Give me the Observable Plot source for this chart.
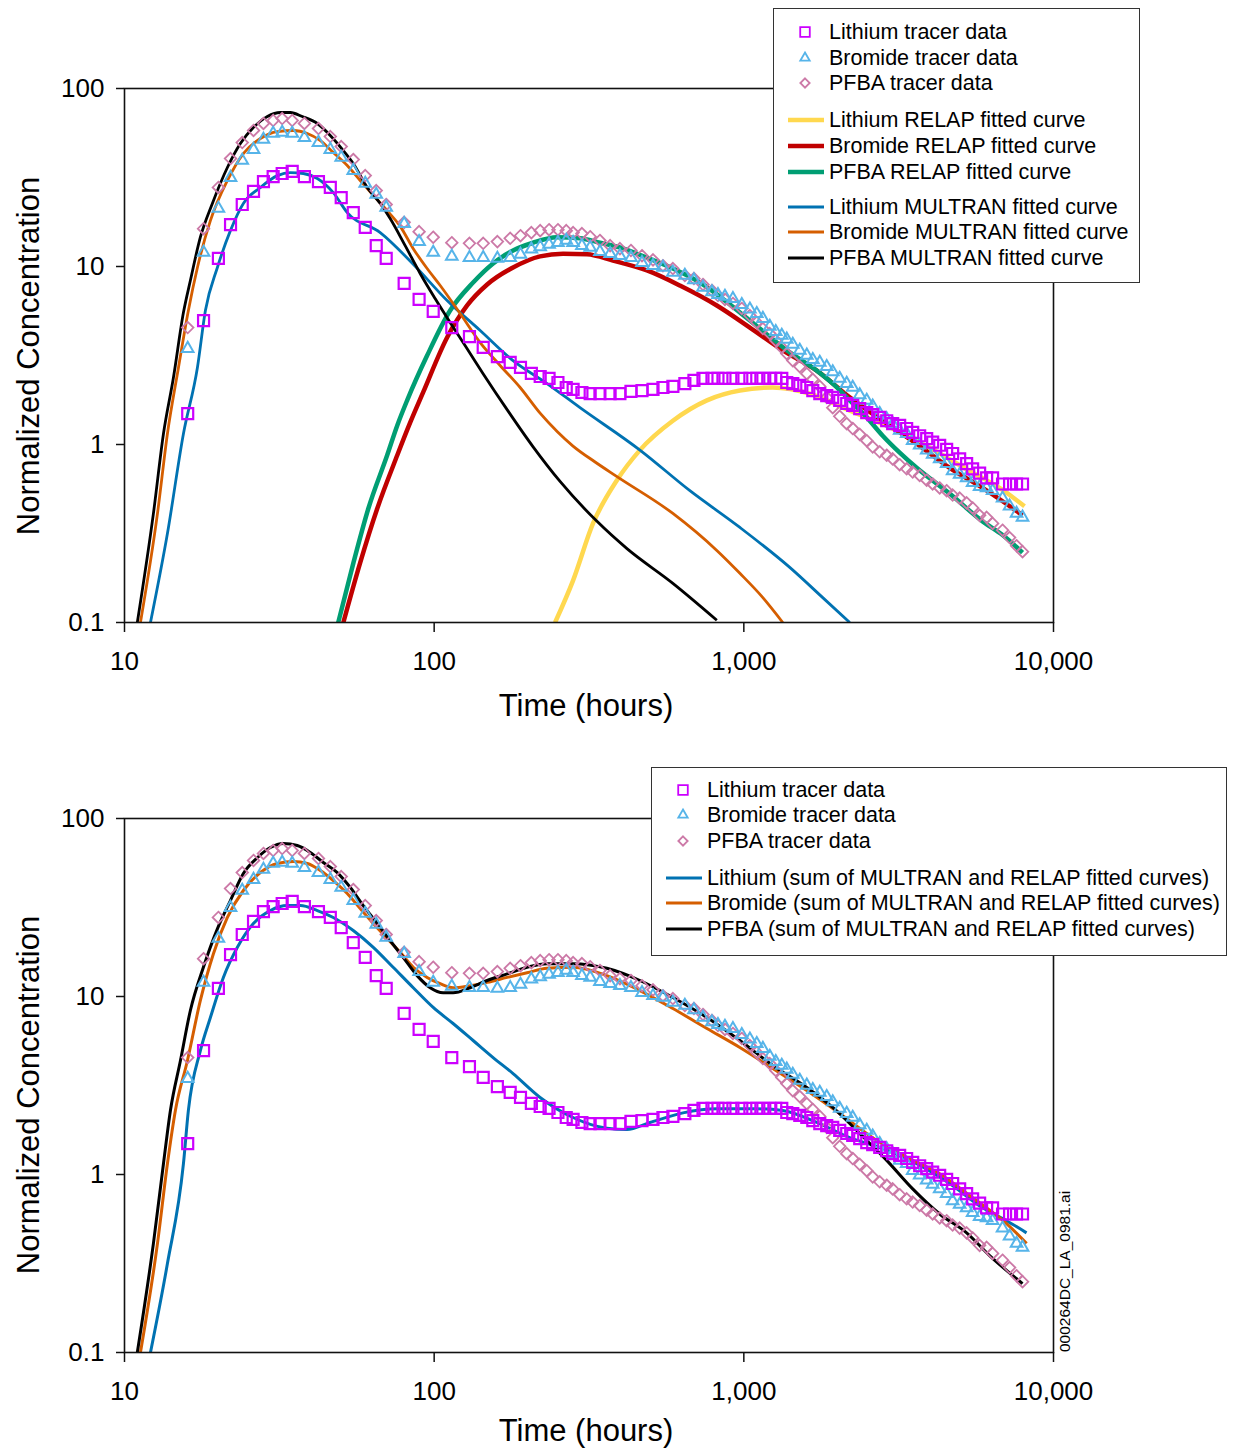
<!DOCTYPE html>
<html><head><meta charset="utf-8">
<script src="https://cdn.jsdelivr.net/npm/d3@7"></script>
<script src="https://cdn.jsdelivr.net/npm/@observablehq/plot@0.6"></script>
<style>
body{margin:0;background:#fff;}
#page{position:relative;width:1233px;height:1452px;background:#fff;font-family:"Liberation Sans",Arial,sans-serif;color:#000;overflow:hidden}
.panel{position:absolute;left:0}
.ylab{position:absolute;font-size:31px;white-space:nowrap;transform:translate(-50%,-50%) rotate(-90deg);line-height:1}
.xlab{position:absolute;font-size:31px;white-space:nowrap;transform:translate(-50%,-50%);line-height:1.1}
.legend{position:absolute;background:#fff;border:1.5px solid #333;box-sizing:border-box;z-index:5}
.row{position:absolute;left:0;height:0}
.row span{position:absolute;top:-13px;font-size:21.5px;line-height:26px;white-space:nowrap}
.row svg{position:absolute;left:0;top:-13px;overflow:visible}
.fileid{position:absolute;font-size:15.5px;white-space:nowrap;line-height:1;transform-origin:0 0;transform:rotate(-90deg) translateY(-50%)}
</style></head>
<body><div id="page"></div>
<script>
// ---------- axis ticks ----------
const xTicks = [10, 100, 1000, 10000];
const yTicks = [0.1, 1, 10, 100];

// ---------- tracer data (shared sampling times, hours) ----------
const times = [16.0, 18.0, 20.1, 22.0, 24.0, 26.1, 28.1, 30.2, 32.3, 34.8, 38.1, 42.3, 46.2, 50.1, 54.8, 59.9, 65.0, 70.0, 80.0, 89.4, 99.3,
  114, 130, 144, 160, 176, 190, 206, 220, 235, 251, 267, 281, 300, 319, 343, 370, 398, 432, 469, 509, 548, 590, 645, 690,
  738, 789, 825, 869, 922, 985, 1046, 1101, 1152, 1213, 1268, 1326, 1376, 1439, 1516, 1597, 1670, 1759, 1852, 1937,
  2040, 2149, 2247, 2367, 2494, 2607, 2747, 2893, 3024, 3186, 3356, 3510, 3697, 3895, 4072, 4290, 4518, 4724, 4977, 5242,
  5481, 5774, 6082, 6358, 6847, 7214, 7598, 7943];

const lithiumData = [1.49, 4.97, 11.1, 17.2, 22.3, 26.4, 30.0, 32.0, 33.3, 34.2, 32.0, 30.0, 27.8, 24.4, 20.1, 16.6, 13.1, 11.1, 8.03, 6.53, 5.59,
  4.54, 4.04, 3.51, 3.12, 2.89, 2.71, 2.51, 2.41, 2.35, 2.23, 2.09, 2.04, 1.96, 1.93, 1.93, 1.93, 1.93, 1.99, 2.01, 2.04, 2.09, 2.12, 2.20, 2.29,
  2.35, 2.35, 2.35, 2.35, 2.35, 2.35, 2.35, 2.35, 2.35, 2.35, 2.35, 2.35, 2.23, 2.20, 2.15, 2.09, 2.01, 1.93, 1.88, 1.84,
  1.77, 1.70, 1.66, 1.59, 1.51, 1.47, 1.42, 1.36, 1.31, 1.28, 1.23, 1.17, 1.12, 1.08, 1.03, 0.99, 0.94, 0.89, 0.83, 0.78,
  0.73, 0.69, 0.65, 0.65, 0.60, 0.60, 0.60, 0.60];

const bromideData = [3.46, 12.0, 21.2, 31.6, 39.4, 45.4, 51.7, 55.9, 56.6, 55.9, 53.0, 49.7, 45.4, 41.0, 34.6, 29.3, 25.4, 21.5, 17.4, 13.8, 12.0,
  11.4, 11.2, 11.2, 11.1, 11.2, 11.7, 12.5, 12.9, 13.3, 13.6, 14.0, 13.6, 13.1, 12.8, 12.1, 11.8, 11.5, 11.2, 10.5, 10.1, 9.87, 9.25, 8.9, 8.4,
  7.62, 7.2, 6.95, 6.8, 6.6, 6.1, 5.75, 5.44, 5.1, 4.6, 4.3, 4.10, 3.9, 3.65, 3.38, 3.17, 3.0, 2.89, 2.74, 2.56,
  2.35, 2.20, 2.09, 1.9, 1.77, 1.64, 1.49, 1.39, 1.31, 1.2, 1.15, 1.05, 0.99, 0.93, 0.88, 0.83, 0.78, 0.71, 0.68, 0.65,
  0.61, 0.58, 0.57, 0.55, 0.50, 0.45, 0.41, 0.39];

const pfbaData = [4.54, 16.3, 27.8, 40.4, 49.7, 58.1, 63.6, 66.1, 67.8, 66.1, 63.6, 59.6, 53.7, 47.2, 39.9, 32.4, 26.7, 22.3, 17.7, 15.7, 14.6,
  13.6, 13.5, 13.5, 13.8, 14.4, 14.9, 15.5, 15.9, 16.1, 16.1, 15.9, 15.5, 15.3, 14.7, 14.0, 13.1, 12.6, 12.3, 11.5, 10.9, 10.1, 9.74, 8.9, 8.56,
  7.92, 7.33, 6.87, 6.53, 6.2, 5.81, 5.30, 4.85, 4.48, 4.20, 3.84, 3.51, 3.24, 2.96, 2.74, 2.50, 2.32, 2.12, 1.84, 1.61,
  1.44, 1.31, 1.23, 1.14, 1.05, 0.97, 0.91, 0.87, 0.83, 0.77, 0.73, 0.70, 0.67, 0.63, 0.60, 0.57, 0.55, 0.52, 0.50, 0.47,
  0.44, 0.40, 0.39, 0.36, 0.33, 0.30, 0.27, 0.25];

// ---------- fitted curves, top panel: [time, concentration] ----------
const lithiumRelap = [[245.7,0.1],[280.8,0.172],[325.8,0.36],[389.3,0.63],[461.8,0.93],[590,1.36],[760,1.77],[971,2.01],[1240,2.09],[1633,1.93],[2198,1.55],[2958,1.25],[3981,0.96],[5358,0.71],[6696,0.57],[8063,0.45]];
const bromideRelap = [[50.9,0.1],[57.7,0.217],[65.5,0.437],[76.0,0.87],[83.7,1.33],[92.1,1.96],[110.1,3.99],[127.8,6.04],[148.3,7.92],[179.8,9.87],[219.8,11.4],[260.7,11.8],[311.6,11.7],[377.9,10.8],[486.5,9.5],[621.7,7.82],[818,6.04],[1046,4.54],[1336,3.38],[1720,2.60],[2198,1.84],[2808,1.36],[3614,1.01],[4618,0.74],[5902,0.57],[6848,0.48],[7943,0.40]];
const pfbaRelap = [[49.0,0.1],[54.8,0.215],[61.3,0.437],[70.5,0.87],[76.0,1.28],[81.8,1.77],[94.9,3.16],[112.6,5.66],[133.6,8.13],[155,10.4],[179.8,12.3],[208.7,13.6],[249.4,14.6],[295.8,14.4],[343.2,13.6],[398,12.8],[486.5,11.2],[590,9.74],[721,8.13],[1046,4.97],[1407,3.29],[1720,2.60],[1966,2.15],[2198,1.77],[2494,1.42],[2808,1.12],[3186,0.90],[3614,0.74],[4618,0.53],[5902,0.37],[6848,0.31],[7943,0.247]];
const lithiumMultran = [[12.13,0.1],[13.76,0.316],[15.5,1.15],[17.2,2.71],[18.25,5.66],[19.95,9.87],[21.98,15.9],[24.2,22.6],[27.47,27.8],[31.17,32.4],[34.32,33.7],[37.8,33.3],[41.95,31.2],[47.22,26.0],[52.4,20.1],[66.96,15.5],[85.6,10.3],[110.1,6.44],[140.8,4.37],[179.8,2.96],[231.4,2.20],[295.8,1.61],[461.8,0.93],[669.6,0.55],[971,0.342],[1407,0.204],[1798,0.138],[2198,0.1]];
const bromideMultran = [[11.26,0.1],[12.78,0.41],[13.76,1.15],[14.94,2.71],[16.08,5.66],[17.2,9.87],[18.94,18.1],[21.49,30.4],[24.2,43.1],[27.47,52.4],[31.17,57.3],[35.1,58.1],[38.94,55.9],[42.9,51.0],[47.22,43.7],[52.4,36.9],[57.7,30.4],[63.6,25.1],[70.5,20.6],[77.7,16.8],[85.6,12.6],[94.9,9.74],[104.6,7.82],[121.3,5.44],[140.8,3.74],[163.3,2.78],[189.5,2.09],[219.8,1.50],[250,1.18],[280.8,0.98],[330,0.80],[389.3,0.66],[590,0.41],[818,0.254],[971,0.189],[1152,0.138],[1336,0.1]];
const pfbaMultran = [[11.0,0.1],[12.4,0.41],[13.36,1.15],[14.39,2.38],[15.5,5.51],[16.32,8.34],[17.58,14.6],[19.22,22.6],[21.49,36.0],[23.67,49.1],[26.07,60.4],[28.93,69.6],[31.87,73.3],[34.32,73.3],[37.52,69.6],[41.95,63.6],[46.18,54.5],[50.9,44.8],[54.8,37.9],[60.8,27.8],[66.96,22.6],[72.1,18.6],[80.6,13.1],[90.1,9.14],[100.7,6.61],[112.6,4.85],[127.8,3.45],[143.9,2.50],[172,1.57],[208.7,0.97],[255,0.62],[335.6,0.37],[419.4,0.26],[590,0.166],[818,0.103]];

// ---------- summed curves, bottom panel ----------
const lithiumSum = [[12.13,0.1],[13.76,0.316],[15.5,1.15],[16.08,2.29],[17.58,4.97],[18.94,7.62],[20.86,12.8],[23.15,18.9],[26.07,25.7],[29.58,30.4],[33.57,32.4],[36.97,32.4],[41.95,30.4],[47.22,27.8],[54.8,23.5],[63.6,18.9],[73.7,14.6],[85.6,11.2],[99.3,8.68],[115.1,7.05],[133.6,5.66],[155,4.54],[179.8,3.69],[219.8,2.71],[280.8,2.09],[361,1.82],[419,1.79],[497.7,1.96],[636,2.22],[818,2.34],[1101,2.34],[1336,2.29],[1720,1.96],[2198,1.61],[2808,1.40],[3614,1.15],[4618,0.89],[5902,0.65],[7053,0.55],[8182,0.47]];
const bromideSum = [[11.26,0.1],[12.78,0.41],[13.76,1.15],[14.6,2.29],[15.97,4.37],[17.58,9.5],[19.37,17.4],[21.49,27.8],[24.2,39.4],[27.47,49.7],[31.17,55.9],[35.1,57.3],[38.94,55.9],[42.9,51.0],[47.22,44.8],[52.4,37.9],[57.7,31.2],[63.6,25.7],[70.5,21.2],[77.7,17.7],[85.6,14.6],[94.9,12.8],[104.6,11.8],[115.1,11.2],[130.7,11.5],[148.3,12.0],[172,12.8],[199.5,13.6],[231.4,14.4],[280.8,14.6],[361,13.1],[461.8,10.8],[590,8.56],[760,6.61],[971,5.17],[1240,3.94],[1597,2.96],[2040,2.20],[2607,1.61],[3356,1.25],[4290,1.01],[5481,0.74],[7053,0.53],[8182,0.41]];
const pfbaSum = [[11.0,0.1],[12.4,0.41],[13.36,1.15],[14.07,2.29],[15.16,4.37],[16.32,8.34],[17.98,14.6],[19.95,24.0],[21.98,34.6],[24.2,49.1],[26.9,60.4],[29.58,68.7],[32.58,72.4],[36.14,70.5],[39.81,64.4],[43.85,56.6],[48.65,49.7],[53.6,41.0],[59.02,32.4],[65.5,25.7],[72.1,20.6],[79.4,16.6],[88.1,13.1],[97.1,11.2],[106.9,10.5],[115.1,10.5],[130.6,11.2],[148.3,12.3],[172,13.4],[199.5,14.6],[231.4,15.3],[280.8,15.3],[361,14.4],[461.8,12.3],[590,9.87],[760,7.62],[971,5.66],[1240,4.10],[1597,3.08],[1937,2.38],[2367,1.70],[2893,1.20],[3510,0.83],[4290,0.60],[5242,0.47],[6218,0.35],[7943,0.244]];

// ---------- text ----------
const yTitle = "Normalized Concentration";
const xTitle = "Time (hours)";
const topLegendLabels = ["Lithium tracer data","Bromide tracer data","PFBA tracer data",
  "Lithium RELAP fitted curve","Bromide RELAP fitted curve","PFBA RELAP fitted curve",
  "Lithium MULTRAN fitted curve","Bromide MULTRAN fitted curve","PFBA MULTRAN fitted curve"];
const bottomLegendLabels = ["Lithium tracer data","Bromide tracer data","PFBA tracer data",
  "Lithium (sum of MULTRAN and RELAP fitted curves)","Bromide (sum of MULTRAN and RELAP fitted curves)","PFBA (sum of MULTRAN and RELAP fitted curves)"];
const fileId = "000264DC_LA_0981.ai";

// ---------- styles ----------
const C = {li:"#CC00FF", br:"#56B4E9", pf:"#CC79A7", liR:"#FFD84F", brR:"#C00000", pfR:"#009E73", liM:"#0072B2", brM:"#D55E00", pfM:"#000000"};

const liPts = times.map((t,i)=>({t, c: lithiumData[i]}));
const brPts = times.map((t,i)=>({t, c: bromideData[i]}));
const pfPts = times.map((t,i)=>({t, c: pfbaData[i]}));

function curve(data, color, w){
  return Plot.line(data, {x: d=>d[0], y: d=>d[1], stroke: color, strokeWidth: w, curve: "monotone-x", clip: true, strokeLinejoin:"round", strokeLinecap:"butt"});
}
function dataMarks(){
  return [
    Plot.dot(pfPts, {x:"t", y:"c", symbol:"diamond2", r:5.2, stroke:C.pf, strokeWidth:1.8, fill:"none"}),
    Plot.dot(brPts, {x:"t", y:"c", symbol:"triangle", r:4.3, stroke:C.br, strokeWidth:2, fill:"none"}),
    Plot.dot(liPts, {x:"t", y:"c", symbol:"square", r:6.2, stroke:C.li, strokeWidth:2.2, fill:"none"})
  ];
}
function makeChart(lineMarks){
  const svg = Plot.plot({
    width: 1233, height: 700,
    marginLeft: 124, marginRight: 180, marginTop: 88, marginBottom: 78,
    style: {fontFamily: '"Liberation Sans", Arial, sans-serif', fontSize: "26px", color: "#000", background: "none", overflow: "visible"},
    x: {type: "log", domain: [10, 10000], ticks: xTicks, tickFormat: d3.format(","), tickSize: 10, tickPadding: 19, label: null},
    y: {type: "log", domain: [0.1, 100], ticks: yTicks, tickFormat: d => String(d), tickSize: 8, tickPadding: 12, label: null},
    marks: [...lineMarks, ...dataMarks(), Plot.frame({stroke:"#111", strokeWidth:1.6})]
  });
  svg.querySelectorAll('g[aria-label^="x-axis"] path, g[aria-label^="y-axis"] path, g[aria-label^="x-axis"] line, g[aria-label^="y-axis"] line').forEach(e=>{e.setAttribute("stroke-width","1.5"); e.setAttribute("stroke","#111");});
  return svg;
}

const page = document.getElementById("page");

function addPanel(top, lineMarks, yLabY, xLabY){
  const svg = makeChart(lineMarks);
  const wrap = document.createElement("div");
  wrap.className = "panel"; wrap.style.top = top + "px";
  wrap.appendChild(svg);
  page.appendChild(wrap);
  const yl = document.createElement("div"); yl.className="ylab"; yl.textContent = yTitle;
  yl.style.left = "28px"; yl.style.top = yLabY + "px"; page.appendChild(yl);
  const xl = document.createElement("div"); xl.className="xlab"; xl.textContent = xTitle;
  xl.style.left = "586px"; xl.style.top = xLabY + "px"; page.appendChild(xl);
}

addPanel(0, [
  curve(lithiumRelap, C.liR, 4.5), curve(bromideRelap, C.brR, 4.5), curve(pfbaRelap, C.pfR, 4.5),
  curve(lithiumMultran, C.liM, 2.8), curve(bromideMultran, C.brM, 2.8), curve(pfbaMultran, C.pfM, 2.8)
], 356, 706);

addPanel(730, [
  curve(lithiumSum, C.liM, 3), curve(bromideSum, C.brM, 3), curve(pfbaSum, C.pfM, 3)
], 1095, 1431);

// ---------- legends ----------
function markerSvg(kind, color, w){
  const ns = "http://www.w3.org/2000/svg";
  const s = document.createElementNS(ns, "svg");
  s.setAttribute("width", 56); s.setAttribute("height", 26);
  if (kind === "line"){
    const l = document.createElementNS(ns, "line");
    l.setAttribute("x1", 14); l.setAttribute("x2", 50); l.setAttribute("y1", 13); l.setAttribute("y2", 13);
    l.setAttribute("stroke", color); l.setAttribute("stroke-width", w);
    s.appendChild(l);
  } else {
    const types = {square: [d3.symbolSquare, 5.4], triangle: [d3.symbolTriangle, 3.5], diamond: [d3.symbolDiamond2, 4.2]};
    const [t, r] = types[kind];
    const p = document.createElementNS(ns, "path");
    p.setAttribute("d", d3.symbol(t, Math.PI * r * r)());
    p.setAttribute("transform", "translate(31,13)");
    p.setAttribute("fill", "none"); p.setAttribute("stroke", color); p.setAttribute("stroke-width", 1.8);
    s.appendChild(p);
  }
  return s;
}
function addLegend(box, labels, styles, rowsY, textX){
  const lg = document.createElement("div"); lg.className = "legend";
  Object.assign(lg.style, {left: box[0]+"px", top: box[1]+"px", width: box[2]+"px", height: box[3]+"px"});
  labels.forEach((lab, i) => {
    const row = document.createElement("div"); row.className = "row"; row.style.top = rowsY[i] + "px";
    const st = styles[i];
    row.appendChild(markerSvg(st[0], st[1], st[2]));
    const sp = document.createElement("span"); sp.textContent = lab; sp.style.left = textX + "px";
    row.appendChild(sp);
    lg.appendChild(row);
  });
  page.appendChild(lg);
}
const pointStyles = [["square", C.li], ["triangle", C.br], ["diamond", C.pf]];
addLegend([773, 8, 367, 275], topLegendLabels,
  [...pointStyles, ["line", C.liR, 4.5], ["line", C.brR, 4.5], ["line", C.pfR, 4.5], ["line", C.liM, 3], ["line", C.brM, 3], ["line", C.pfM, 3]],
  [23, 49, 74, 111, 137, 163, 198, 223, 249], 55);
addLegend([651, 767, 576, 189], bottomLegendLabels,
  [...pointStyles, ["line", C.liM, 3], ["line", C.brM, 3], ["line", C.pfM, 3]],
  [22, 47, 73, 110, 135, 161], 55);

const fid = document.createElement("div"); fid.className = "fileid"; fid.textContent = fileId;
fid.style.left = "1065px"; fid.style.top = "1352px";
page.appendChild(fid);
</script></body></html>
